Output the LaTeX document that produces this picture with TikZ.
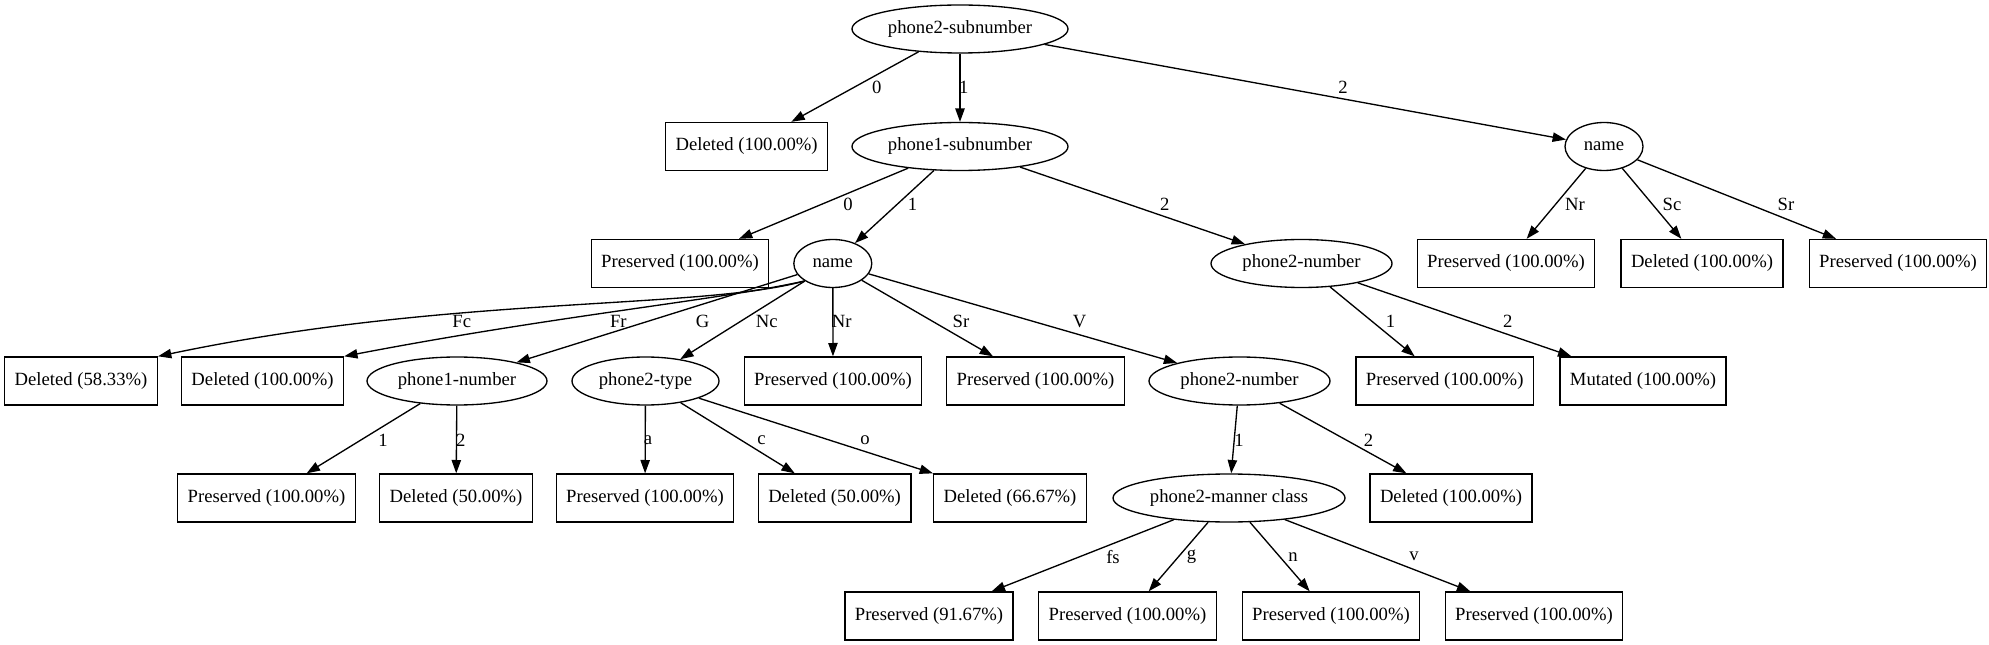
\documentclass[tikz,border=0pt]{standalone}
\usepackage{fontspec}
\setmainfont{Liberation Serif}
\usepackage{tikz}
\usetikzlibrary{positioning}
\usetikzlibrary{shapes.geometric,arrows.meta}

\newcommand{\treefont}{\fontsize{14}{16}\selectfont}

\tikzset{
	attr/.style={ellipse, draw, line width=1pt, inner sep=0pt, minimum height=36pt, font=\treefont},
	leaf/.style={rectangle, draw, line width=1pt, inner xsep=7.5pt, inner ysep=0pt, minimum height=36pt, font=\treefont},
	branch/.style={line width=1pt, -{Triangle[length=10pt,width=7pt]}},
	lab/.style={inner sep=0pt, font=\treefont}
}

\begin{document}
\begin{tikzpicture}[x=0.75pt,y=-0.75pt]
	
	% ------------------------------------------------
	% Size of the graphic
	\useasboundingbox (0,0) rectangle (1989,645);
	
	% ------------------------------------------------
	% Split nodes
	\node[attr, minimum width=162pt]    (P2Sub)    at (960,29)      {phone2-subnumber};
	\node[attr, minimum width=162pt]    (P1Sub)    at (960,146.5)   {phone1-subnumber};
	\node[attr, minimum width=58.5pt]   (NameR)    at (1604,146.5)  {name};
	\node[attr, minimum width=58.5pt]   (NameM)    at (832.8,263.5) {name};
	\node[attr, minimum width=135.75pt] (P2NumR)   at (1301.5,263.5) {phone2-number};
	\node[attr, minimum width=135pt]    (P1Num)    at (457,381)     {phone1-number};
	\node[attr, minimum width=110.25pt] (P2Type)   at (645.5,381)   {phone2-type};
	\node[attr, minimum width=135.75pt] (P2NumV)   at (1239.5,381)  {phone2-number};
	\node[attr, minimum width=174pt]    (P2Manner) at (1229,498)    {phone2-manner class};
	
	% ------------------------------------------------
	% Leaves
	\node[leaf] (DelTop)    at (746.6,146.5) {Deleted (100.00\%)};
	\node[leaf] (PresZero)  at (680,263.5)   {Preserved (100.00\%)};
	\node[leaf] (PresNrR)   at (1506,263.5)  {Preserved (100.00\%)};
	\node[leaf] (DelScR)    at (1702,263.5)  {Deleted (100.00\%)};
	\node[leaf] (PresSrR)   at (1898,263.5)  {Preserved (100.00\%)};
	
	\node[leaf] (DelFc)     at (81,381)      {Deleted (58.33\%)};
	\node[leaf] (DelFr)     at (262.5,381)   {Deleted (100.00\%)};
	\node[leaf] (PresNr)    at (833,381)     {Preserved (100.00\%)};
	\node[leaf] (PresSr)    at (1035.5,381)  {Preserved (100.00\%)};
	\node[leaf] (PresOneR)  at (1444.7,381)  {Preserved (100.00\%)};
	\node[leaf] (MutTwoR)   at (1643,381)    {Mutated (100.00\%)};
	
	\node[leaf] (PresOne)   at (266.5,498)   {Preserved (100.00\%)};
	\node[leaf] (DelTwo)    at (456,498)     {Deleted (50.00\%)};
	\node[leaf] (PresA)     at (645,498)     {Preserved (100.00\%)};
	\node[leaf] (DelC)      at (834.6,498)   {Deleted (50.00\%)};
	\node[leaf] (DelO)      at (1010,498)    {Deleted (66.67\%)};
	\node[leaf] (DelTwoV)   at (1451,498)    {Deleted (100.00\%)};
	
	\node[leaf] (PresFs)    at (929,616)     {Preserved (91.67\%)};
	\node[leaf] (PresG)     at (1127.5,616)  {Preserved (100.00\%)};
	\node[leaf] (PresN)     at (1331,616)    {Preserved (100.00\%)};
	\node[leaf] (PresV)     at (1534,616)    {Preserved (100.00\%)};
	
	% ------------------------------------------------
	% Branches
	\draw[branch] (P2Sub) -- (DelTop);
	\draw[branch] (P2Sub) -- (P1Sub);
	\draw[branch] (P2Sub) -- (NameR);
	
	\draw[branch] (P1Sub) -- (PresZero);
	\draw[branch] (P1Sub) -- (NameM);
	\draw[branch] (P1Sub) -- (P2NumR);
	
	\draw[branch] (NameR) -- (PresNrR);
	\draw[branch] (NameR) -- (DelScR);
	\draw[branch] (NameR) -- (PresSrR);
	
	\draw[branch] (NameM.south west) .. controls (700,310) and (450,295) .. (DelFc.north east);
	\draw[branch] (NameM.south west) .. controls (720,300) and (560,315) .. (DelFr.north east);
	\draw[branch] (NameM) -- (P1Num);
	\draw[branch] (NameM) -- (P2Type);
	\draw[branch] (NameM) -- (PresNr);
	\draw[branch] (NameM) -- (PresSr);
	\draw[branch] (NameM) -- (P2NumV);
	
	\draw[branch] (P2NumR) -- (PresOneR);
	\draw[branch] (P2NumR) -- (MutTwoR);
	
	\draw[branch] (P1Num) -- (PresOne);
	\draw[branch] (P1Num) -- (DelTwo);
	
	\draw[branch] (P2Type) -- (PresA);
	\draw[branch] (P2Type) -- (DelC);
	\draw[branch] (P2Type) -- (DelO);
	
	\draw[branch] (P2NumV) -- (P2Manner);
	\draw[branch] (P2NumV) -- (DelTwoV);
	
	\draw[branch] (P2Manner) -- (PresFs);
	\draw[branch] (P2Manner) -- (PresG);
	\draw[branch] (P2Manner) -- (PresN);
	\draw[branch] (P2Manner) -- (PresV);
	
	% ------------------------------------------------
	% Branch labels
	\node[lab] (LabTopZero)  at (876.8,87.3)  {0};
	\node[lab] (LabTopOne)   at (963.8,87.3)  {1};
	\node[lab] (LabTopTwo)   at (1343,87.3)   {2};
	
	\node[lab] (LabSubZero)  at (848,204)     {0};
	\node[lab] (LabSubOne)   at (912.5,204)   {1};
	\node[lab] (LabSubTwo)   at (1164.7,204)  {2};
	\node[lab] (LabNrR)      at (1575,204)    {Nr};
	\node[lab] (LabScR)      at (1672,204)    {Sc};
	\node[lab] (LabSrR)      at (1786,204)    {Sr};
	
	\node[lab] (LabFc)       at (461.7,321.7) {Fc};
	\node[lab] (LabFr)       at (618.3,321.7) {Fr};
	\node[lab] (LabG)        at (702.7,321.7) {G};
	\node[lab] (LabNc)       at (766.7,321.7) {Nc};
	\node[lab] (LabNr)       at (841.7,321.7) {Nr};
	\node[lab] (LabSr)       at (961,321.7)   {Sr};
	\node[lab] (LabV)        at (1079.5,321.7) {V};
	\node[lab] (LabNumOneR)  at (1390.6,321.7) {1};
	\node[lab] (LabNumTwoR)  at (1507.7,321.7) {2};
	
	\node[lab] (LabNumOne)   at (383,440)     {1};
	\node[lab] (LabNumTwo)   at (460.7,440)   {2};
	\node[lab] (LabA)        at (648,440)     {a};
	\node[lab] (LabC)        at (761.6,440)   {c};
	\node[lab] (LabO)        at (865,440)     {o};
	\node[lab] (LabNumOneV)  at (1239,440)    {1};
	\node[lab] (LabNumTwoV)  at (1368.5,440)  {2};
	
	\node[lab] (LabFs)       at (1113,556.7)  {fs};
	\node[lab] (LabG2)       at (1191.5,556.7) {g};
	\node[lab] (LabN)        at (1293,556.7)  {n};
	\node[lab] (LabV2)       at (1414,556.7)  {v};
	
\end{tikzpicture}
\end{document}
